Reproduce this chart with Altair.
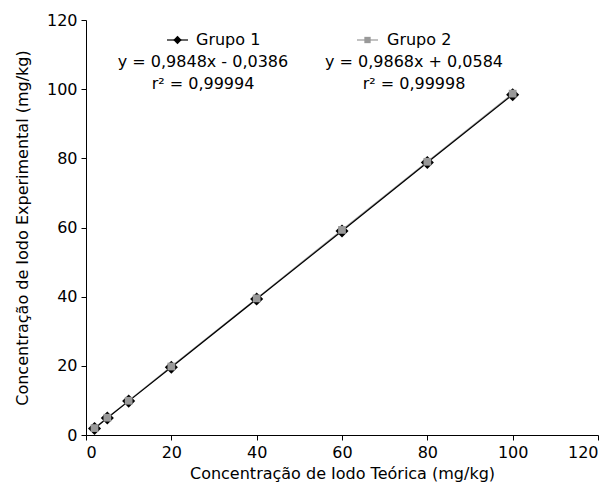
import altair as alt
import pandas as pd

conc_teorica = [2, 5, 10, 20, 40, 60, 80, 100]
grupo1 = [1.9, 4.9, 9.8, 19.6, 39.3, 59.0, 78.8, 98.4]
grupo2 = [2.0, 5.0, 9.9, 19.8, 39.5, 59.3, 79.0, 98.7]

leg_names = ["Grupo 1", "Grupo 2"]
leg_eq = ["y = 0,9848x - 0,0386", "y = 0,9868x + 0,0584"]
leg_r2 = ["r² = 0,99994", "r² = 0,99998"]

FONT = "DejaVu Sans"
FS = 16
W, H = 512, 415
LEFT = 86

df1 = pd.DataFrame({"x": conc_teorica, "y": grupo1})
df2 = pd.DataFrame({"x": conc_teorica, "y": grupo2})

xs = alt.Scale(domain=[0, 120], nice=False)
ys = alt.Scale(domain=[0, 120], nice=False)
xax = alt.Axis(values=[0, 20, 40, 60, 80, 100, 120], title="Concentração de Iodo Teórica (mg/kg)",
               titlePadding=5)
yax = alt.Axis(values=[0, 20, 40, 60, 80, 100, 120], title="Concentração de Iodo Experimental (mg/kg)",
               titlePadding=16)

def X(f):
    return alt.X(f, type="quantitative", scale=xs, axis=xax)

def Y(f):
    return alt.Y(f, type="quantitative", scale=ys, axis=yax)

line2 = alt.Chart(df2).mark_line(color="#999999", strokeWidth=1.2).encode(x=X("x"), y=Y("y"))
line1 = alt.Chart(df1).mark_line(color="#000000", strokeWidth=1.2).encode(x=X("x"), y=Y("y"))
pts1 = alt.Chart(df1).mark_point(shape="diamond", filled=True, color="#000000", size=170, opacity=1).encode(x=X("x"), y=Y("y"))
pts2 = alt.Chart(df2).mark_point(shape="square", filled=True, color="#999999", size=60, opacity=1).encode(x=X("x"), y=Y("y"))

# legend block placed in data coordinates of the plot
def px2x(p):
    return (p - LEFT) / W * 120

def py2y(p):
    return 120 - (p - 20) / H * 120

leg = pd.DataFrame({"name": leg_names, "eq": leg_eq, "r2": leg_r2})
leg["tx"] = [px2x(196), px2x(387)]
leg["sx1"] = [px2x(167), px2x(357)]
leg["sx2"] = [px2x(188), px2x(378)]
leg["mx"] = [px2x(177.5), px2x(367.5)]
leg["cx"] = [px2x(203), px2x(414)]
leg["y1"] = py2y(40)
leg["y2"] = py2y(62)
leg["y3"] = py2y(84)

cscale = alt.Scale(domain=leg_names, range=["#000000", "#999999"])
txt_common = dict(font=FONT, fontSize=FS, color="#000000")
t_name = alt.Chart(leg).mark_text(align="left", baseline="middle", **txt_common).encode(
    x=X("tx"), y=Y("y1"), text="name:N")
t_eq = alt.Chart(leg).mark_text(align="center", baseline="middle", **txt_common).encode(
    x=X("cx"), y=Y("y2"), text="eq:N")
t_r2 = alt.Chart(leg).mark_text(align="center", baseline="middle", **txt_common).encode(
    x=X("cx"), y=Y("y3"), text="r2:N")
seg = alt.Chart(leg).mark_rule(strokeWidth=1.2).encode(
    x=X("sx1"), x2="sx2:Q", y=Y("y1"),
    color=alt.Color("name:N", scale=cscale, legend=None))
sym = alt.Chart(leg).mark_point(filled=True, opacity=1).encode(
    x=X("mx"), y=Y("y1"),
    shape=alt.Shape("name:N", scale=alt.Scale(domain=leg_names, range=["diamond", "square"]), legend=None),
    size=alt.Size("name:N", scale=alt.Scale(domain=leg_names, range=[70, 40]), legend=None),
    color=alt.Color("name:N", scale=cscale, legend=None))

chart = alt.layer(line2, line1, pts1, pts2, seg, sym, t_name, t_eq, t_r2).properties(
    width=W, height=H,
    autosize=alt.AutoSizeParams(type="none"),
    padding={"left": LEFT - 8, "top": 12, "right": 5, "bottom": 53},
).configure_view(stroke=None).configure_axis(
    grid=False, domainColor="#000000", tickColor="#000000", domainWidth=1, tickWidth=1, tickSize=5,
    labelFont=FONT, labelFontSize=FS, labelColor="#000000", labelPadding=4,
    titleFont=FONT, titleFontSize=FS, titleColor="#000000", titleFontWeight="normal",
)

chart.save("out.html", embed_options={"renderer": "svg", "actions": False})
